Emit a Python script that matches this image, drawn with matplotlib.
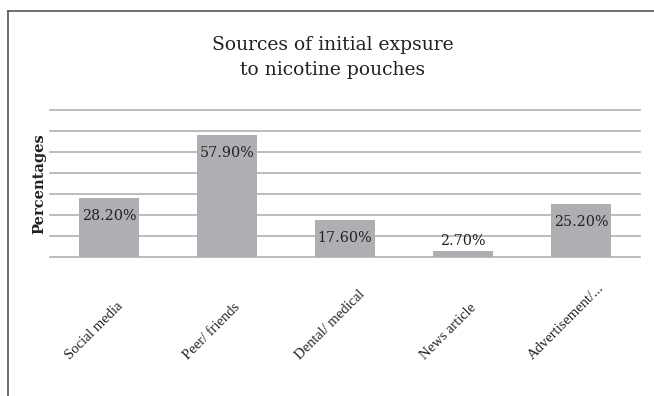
import numpy as np
import matplotlib
matplotlib.use("Agg")
from matplotlib import pyplot as plt
from matplotlib.lines import Line2D

categories = ["Social media", "Peer/ friends", "Dental/ medical", "News article", "Advertisement/..."]
percentages = [28.2, 57.9, 17.6, 2.7, 25.2]
y_ticks = [0, 10, 20, 30, 40, 50, 60, 70]

bar_color = "#AEAFB2"
grid_color = "#A9A9A9"
text_color = "#222222"

fig = plt.figure(figsize=(6.54, 3.96), dpi=100)
ax = fig.add_axes([50 / 654, 1 - 257 / 396, 590 / 654, 147 / 396])

x = np.arange(len(categories))
ax.bar(x, percentages, width=0.51, color=bar_color, zorder=2)

ax.set_xlim(-0.5, len(categories) - 0.5)
ax.set_ylim(0, 70)
for t in y_ticks:
    ax.axhline(t, color=grid_color, lw=1.1, zorder=1, clip_on=False)

for s in ax.spines.values():
    s.set_visible(False)
ax.set_xticks([]); ax.set_yticks([])

# value labels: inside the top of tall bars, above the short one
for i, v in enumerate(percentages):
    dy = -13 if v > 10 else 7.5
    ax.annotate(f"{v:.2f}%", xy=(i, v), xytext=(0, dy), textcoords="offset points",
                ha="center", va="center", fontsize=10.3, family="DejaVu Serif", color=text_color, zorder=3)

# rotated category labels below the axis
for i, c in enumerate(categories):
    ax.annotate(c, xy=(i, 0), xytext=(-10.8, -75.6), textcoords="offset points",
                rotation=45, ha="center", va="bottom", fontsize=10.5,
                family="Liberation Serif", color=text_color)

ax.set_ylabel("Percentages", fontsize=10.5, family="DejaVu Serif", fontweight="bold", color=text_color)
ax.yaxis.set_label_coords(-4 / 590, 0.5)

fig.text(333 / 654, 1 - 45 / 396, "Sources of initial expsure", ha="center", va="center",
         fontsize=13.5, family="DejaVu Serif", color=text_color)
fig.text(333 / 654, 1 - 70 / 396, "to nicotine pouches", ha="center", va="center",
         fontsize=13.5, family="DejaVu Serif", color=text_color)

# chart frame
fig.add_artist(Line2D([8 / 654, 8 / 654], [0, 1 - 11 / 396], transform=fig.transFigure, color="#555555", lw=1.2))
fig.add_artist(Line2D([8 / 654, 1], [1 - 11 / 396, 1 - 11 / 396], transform=fig.transFigure, color="#555555", lw=1.2))

fig.savefig("out.png", dpi=100)
